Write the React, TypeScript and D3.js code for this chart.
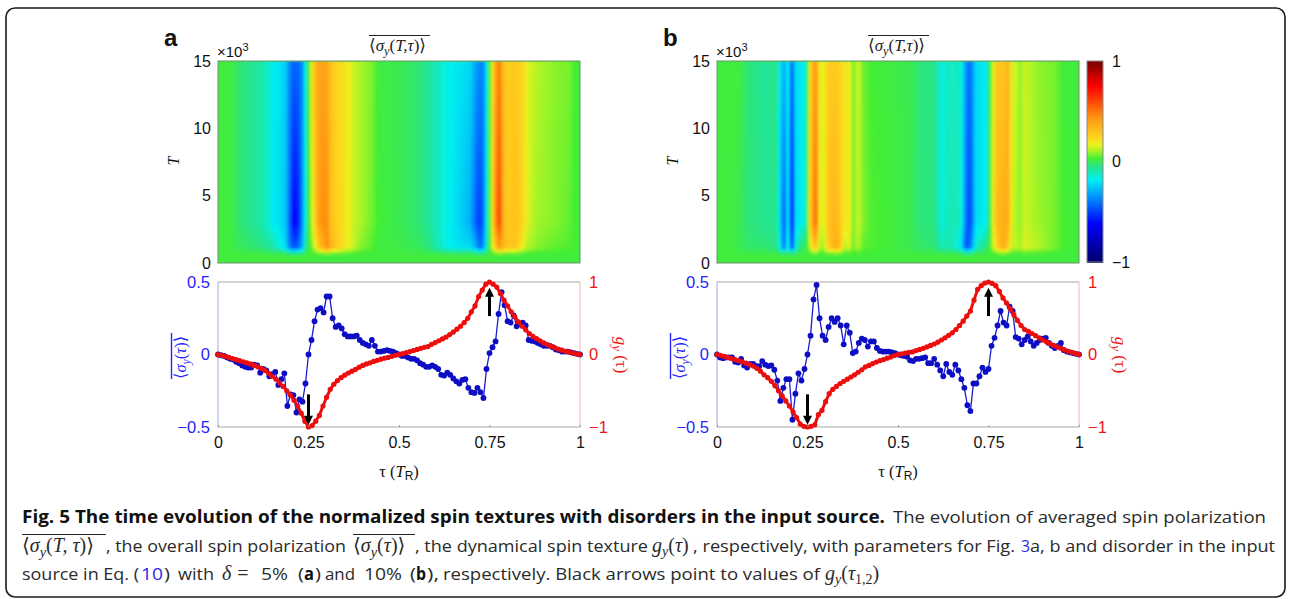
import React, { useEffect, useRef } from "react";
import * as d3 from "d3";

// colour bar stops
const colorDomain = [-1, -0.62, -0.36, -0.18, -0.05, 0.03, 0.1, 0.17, 0.25, 0.44, 0.75, 1];
const colorRange = ["#00006a", "#0000ff", "#0090ff", "#00f0f0", "#28e488", "#44ee33", "#a0f428", "#ecf21c", "#ffd020", "#ff9410", "#ff0000", "#7a0000"];

const hmTimes = [0, 0.55, 1.1, 3, 15];

// panel a heat map: one value per tau stop, at T = 1.1, 3 and 15 (x10^3)
const tauStopsA = [0, 0.032, 0.05, 0.078, 0.11, 0.133, 0.15, 0.165, 0.184, 0.195, 0.207, 0.22, 0.232, 0.24, 0.252, 0.262, 0.275, 0.29, 0.3, 0.308, 0.33, 0.354, 0.37, 0.391, 0.425, 0.437, 0.5, 0.55, 0.58, 0.602, 0.625, 0.65, 0.694, 0.71, 0.72, 0.73, 0.738, 0.745, 0.752, 0.76, 0.775, 0.785, 0.8, 0.815, 0.84, 0.85, 0.88, 0.93, 0.97, 0.98, 1];
const earlyA = [0.02, 0.02, 0, -0.02, -0.04, -0.06, -0.1, -0.14, -0.22, -0.4, -0.48, -0.42, -0.26, -0.05, 0.03, 0.12, 0.28, 0.38, 0.46, 0.34, 0.26, 0.18, 0.14, 0.08, 0.04, 0.02, 0.01, -0.01, -0.04, -0.1, -0.16, -0.2, -0.22, -0.3, -0.44, -0.36, -0.16, 0, 0.08, 0.24, 0.42, 0.34, 0.28, 0.3, 0.18, 0.12, 0.08, 0.05, 0.04, 0.03, 0.02];
const peakA = [0.02, 0.02, -0.02, -0.05, -0.08, -0.13, -0.19, -0.21, -0.26, -0.44, -0.64, -0.56, -0.32, -0.1, 0.06, 0.22, 0.4, 0.46, 0.44, 0.3, 0.24, 0.19, 0.14, 0.11, 0.06, 0.03, 0, -0.03, -0.07, -0.12, -0.16, -0.2, -0.3, -0.46, -0.52, -0.42, -0.2, 0, 0.1, 0.38, 0.64, 0.34, 0.26, 0.3, 0.24, 0.16, 0.1, 0.08, 0.05, 0.03, 0.02];
const steadyA = [0.02, 0.02, -0.02, -0.05, -0.08, -0.13, -0.19, -0.2, -0.24, -0.38, -0.44, -0.42, -0.34, -0.1, 0.1, 0.3, 0.38, 0.4, 0.36, 0.3, 0.23, 0.2, 0.14, 0.11, 0.07, 0.02, 0, -0.03, -0.07, -0.12, -0.16, -0.19, -0.22, -0.33, -0.36, -0.38, -0.2, 0, 0.1, 0.33, 0.5, 0.3, 0.26, 0.28, 0.24, 0.16, 0.12, 0.08, 0.07, 0.03, 0.02];

// panel b heat map
const tauStopsB = [0, 0.037, 0.06, 0.078, 0.129, 0.161, 0.17, 0.182, 0.193, 0.205, 0.214, 0.225, 0.241, 0.248, 0.257, 0.271, 0.28, 0.29, 0.303, 0.322, 0.335, 0.349, 0.363, 0.372, 0.388, 0.4, 0.423, 0.533, 0.561, 0.597, 0.616, 0.643, 0.671, 0.685, 0.697, 0.712, 0.74, 0.752, 0.767, 0.789, 0.801, 0.813, 0.823, 0.832, 0.847, 0.882, 0.928, 0.956, 1];
const earlyB = [0.02, 0.02, 0, -0.02, -0.03, -0.05, -0.16, -0.42, -0.14, -0.5, -0.16, -0.05, 0, 0.03, 0.2, 0.3, 0.12, 0.1, 0.25, 0.36, 0.34, 0.12, 0.16, 0.06, 0.12, 0.05, 0.04, 0, -0.02, -0.03, -0.1, -0.1, -0.2, -0.48, -0.4, -0.14, -0.04, 0.03, 0.22, 0.38, 0.26, 0.12, 0.14, 0.1, 0.16, 0.12, 0.07, 0.03, 0.02];
const peakB = [0.02, 0.02, 0, -0.03, -0.06, -0.06, -0.2, -0.46, -0.2, -0.62, -0.22, -0.2, -0.14, 0.06, 0.34, 0.54, 0.18, 0.14, 0.28, 0.34, 0.28, 0.2, 0.2, 0.06, 0.14, 0.08, 0.04, 0, -0.04, -0.04, -0.16, -0.1, -0.12, -0.42, -0.5, -0.22, -0.18, 0.03, 0.3, 0.36, 0.36, 0.14, 0.12, 0.08, 0.14, 0.1, 0.07, 0.03, 0.02];
const steadyB = [0.02, 0.02, 0.02, -0.03, -0.07, -0.05, -0.18, -0.3, -0.18, -0.44, -0.22, -0.2, -0.16, 0.03, 0.3, 0.42, 0.2, 0.15, 0.26, 0.27, 0.25, 0.2, 0.2, 0.06, 0.15, 0.06, 0.03, 0, -0.04, -0.05, -0.16, -0.12, -0.13, -0.36, -0.42, -0.22, -0.19, 0.03, 0.27, 0.28, 0.34, 0.13, 0.16, 0.08, 0.14, 0.09, 0.07, 0.02, 0.02];

// overall polarization, 121 samples across tau
const blueA = [0, -0.005, -0.01, -0.02, -0.03, -0.035, -0.05, -0.06, -0.075, -0.085, -0.09, -0.09, -0.07, -0.075, -0.125, -0.1, -0.11, -0.15, -0.135, -0.12, -0.21, -0.17, -0.13, -0.355, -0.275, -0.28, -0.4, -0.31, -0.325, -0.2, 0, 0.1, 0.23, 0.31, 0.32, 0.29, 0.4, 0.4, 0.25, 0.19, 0.2, 0.18, 0.14, 0.125, 0.125, 0.125, 0.13, 0.1, 0.08, 0.07, 0.06, 0.1, 0.06, 0.02, 0.02, 0.025, 0.03, 0.025, 0.02, 0.01, 0, -0.01, -0.01, -0.02, -0.03, -0.03, -0.04, -0.06, -0.07, -0.085, -0.085, -0.075, -0.085, -0.1, -0.14, -0.145, -0.125, -0.14, -0.165, -0.185, -0.2, -0.175, -0.17, -0.23, -0.26, -0.265, -0.23, -0.26, -0.3, -0.1, 0.01, 0.05, 0.09, 0.28, 0.43, 0.34, 0.23, 0.22, 0.27, 0.195, 0.21, 0.22, 0.2, 0.1, 0.095, 0.09, 0.08, 0.07, 0.06, 0.06, 0.06, 0.05, 0.035, 0.03, 0.02, 0.02, 0.02, 0.015, 0.01, 0.005, 0];
const blueB = [0, -0.02, -0.025, -0.02, -0.02, -0.02, -0.05, -0.055, -0.03, -0.075, -0.09, -0.065, -0.065, -0.08, -0.08, -0.045, -0.07, -0.08, -0.075, -0.105, -0.18, -0.32, -0.23, -0.17, -0.17, -0.45, -0.27, -0.13, -0.18, -0.1, 0, 0.13, 0.38, 0.48, 0.25, 0.13, 0.1, 0.19, 0.25, 0.225, 0.25, 0.2, 0.07, 0.2, 0.15, 0.01, 0.02, 0.08, 0.11, 0.1, 0.055, 0.09, 0.09, 0.045, 0.025, 0.02, 0.02, 0.02, 0.015, 0.01, 0, -0.005, -0.01, -0.015, -0.04, -0.045, -0.03, -0.03, -0.025, -0.02, -0.06, -0.06, -0.03, -0.07, -0.11, -0.15, -0.065, -0.12, -0.14, -0.07, -0.11, -0.17, -0.23, -0.35, -0.39, -0.2, -0.2, -0.15, -0.09, -0.12, -0.1, 0.06, 0.115, 0.2, 0.3, 0.22, 0.2, 0.33, 0.3, 0.12, 0.11, 0.07, 0.1, 0.125, 0.09, 0.06, 0.08, 0.1, 0.11, 0.115, 0.08, 0.06, 0.045, 0.06, 0.08, 0.03, 0.02, 0.015, 0.01, 0.005, 0];

// dynamical spin texture, 101 samples across tau
const redA = [0, -0.012, -0.025, -0.04, -0.055, -0.07, -0.085, -0.1, -0.115, -0.13, -0.15, -0.17, -0.19, -0.22, -0.26, -0.3, -0.34, -0.39, -0.44, -0.5, -0.56, -0.63, -0.71, -0.81, -0.92, -1, -0.98, -0.92, -0.84, -0.71, -0.59, -0.48, -0.41, -0.36, -0.32, -0.285, -0.255, -0.23, -0.205, -0.175, -0.15, -0.13, -0.115, -0.095, -0.08, -0.065, -0.05, -0.04, -0.025, -0.012, 0, 0.012, 0.025, 0.04, 0.055, 0.07, 0.085, 0.1, 0.11, 0.14, 0.165, 0.19, 0.215, 0.24, 0.275, 0.31, 0.35, 0.39, 0.44, 0.5, 0.59, 0.67, 0.8, 0.89, 0.97, 1, 0.97, 0.93, 0.84, 0.75, 0.67, 0.59, 0.52, 0.45, 0.39, 0.34, 0.29, 0.25, 0.22, 0.19, 0.16, 0.135, 0.115, 0.095, 0.075, 0.06, 0.045, 0.035, 0.02, 0.01, 0];
const redB = [0, -0.012, -0.025, -0.04, -0.055, -0.07, -0.085, -0.1, -0.12, -0.14, -0.16, -0.19, -0.23, -0.28, -0.32, -0.37, -0.43, -0.5, -0.57, -0.64, -0.71, -0.79, -0.87, -0.96, -0.99, -1, -0.99, -0.97, -0.83, -0.77, -0.65, -0.54, -0.48, -0.44, -0.4, -0.37, -0.34, -0.31, -0.28, -0.245, -0.21, -0.17, -0.15, -0.125, -0.105, -0.085, -0.07, -0.05, -0.035, -0.015, 0, 0.01, 0.02, 0.03, 0.035, 0.055, 0.07, 0.085, 0.105, 0.125, 0.145, 0.17, 0.2, 0.23, 0.265, 0.3, 0.345, 0.4, 0.46, 0.53, 0.6, 0.75, 0.9, 0.95, 0.985, 1, 0.98, 0.95, 0.87, 0.78, 0.71, 0.63, 0.55, 0.47, 0.4, 0.345, 0.32, 0.29, 0.26, 0.23, 0.2, 0.175, 0.15, 0.125, 0.105, 0.085, 0.065, 0.045, 0.03, 0.015, 0];

const tTicks = [0, 5, 10, 15];
const tauTicks = [0, 0.25, 0.5, 0.75, 1];
const blueTicks = [-0.5, 0, 0.5];
const redTicks = [-1, 0, 1];

const BLUE = "#2424ff";
const RED = "#f01414";
const SANS = "'Liberation Sans', Arial, sans-serif";
const SERIF = "'Liberation Serif', 'DejaVu Serif', serif";
const CAPTION = "'Open Sans', sans-serif";

const fmt = (d: any) => String(d).replace("-", "\u2212");

function drawMath(g: any, x: number, y: number, size: number, fill: string, inner: string) {
  // averaged quantity with its bar, inner is "T,τ" or "τ"
  const t = g.append("text").attr("x", x).attr("y", y).attr("font-family", SERIF).attr("font-size", size).attr("fill", fill);
  t.append("tspan").text("\u27e8");
  t.append("tspan").attr("font-style", "italic").text("\u03c3");
  t.append("tspan").attr("font-style", "italic").attr("font-size", size * 0.72).attr("dy", size * 0.25).text("y");
  t.append("tspan").attr("dy", -size * 0.25).text("(");
  t.append("tspan").attr("font-style", "italic").text(inner);
  t.append("tspan").text(")\u27e9");
  return t;
}

function drawPanel(svg: any, p: any) {
  const tau = d3.scaleLinear().domain([0, 1]).range([p.left, p.left + 362]);
  const tY = d3.scaleLinear().domain([0, 15]).range([263, 61]);
  const blueY = d3.scaleLinear().domain([-0.5, 0.5]).range([427, 282]);
  const redY = d3.scaleLinear().domain([-1, 1]).range([427, 282]);

  // heat map: piecewise scales over the stops
  const rows = [p.base, p.base, p.early, p.peak, p.steady].map((r: number[]) =>
    d3.scaleLinear().domain(p.tauStops).range(r)
  );
  const color = d3.scaleLinear<string>().domain(colorDomain).range(colorRange);
  const colX = d3.range(0, 1, 2 / 362);
  const rowT = d3.range(0, 15, 15 / 70);
  const clipId = "clip-" + p.name;
  svg.append("clipPath").attr("id", clipId).append("rect")
    .attr("x", tau(0)).attr("y", tY(15)).attr("width", 362).attr("height", 202);
  const hm = svg.append("g").attr("clip-path", `url(#${clipId})`);
  hm.append("rect").attr("x", tau(0)).attr("y", tY(15)).attr("width", 362).attr("height", 202).attr("fill", color(0.02));
  const cells = hm.append("g").attr("filter", "url(#soft)").attr("shape-rendering", "crispEdges");
  rowT.forEach((T: number) => {
    const i = d3.bisectRight(hmTimes, T) - 1;
    const k = (T - hmTimes[i]) / (hmTimes[i + 1] - hmTimes[i]);
    cells.append("g").selectAll("rect").data(colX).join("rect")
      .attr("x", (d: number) => tau(d))
      .attr("y", tY(T + 15 / 70))
      .attr("width", 2.5)
      .attr("height", 15 / 70 * 202 / 15 + 0.5)
      .attr("fill", (d: number) => color(rows[i](d) * (1 - k) + rows[i + 1](d) * k));
  });
  svg.append("rect").attr("x", tau(0)).attr("y", tY(15)).attr("width", 362).attr("height", 202)
    .attr("fill", "none").attr("stroke", "#6d8f6d").attr("stroke-width", 1);

  const hmAxis = svg.append("g").attr("transform", `translate(${tau(0)},0)`)
    .call(d3.axisLeft(tY).tickValues(tTicks).tickSize(0).tickPadding(7).tickFormat(fmt));
  hmAxis.select(".domain").remove();
  hmAxis.selectAll("text").attr("font-family", SANS).attr("font-size", 16).attr("fill", "#111");

  svg.append("text").attr("x", p.left - 54).attr("y", 46).attr("font-family", SANS).attr("font-weight", "bold").attr("font-size", 24).attr("fill", "#111").text(p.name);
  const e3 = svg.append("text").attr("x", p.left - 1).attr("y", 57).attr("font-family", SANS).attr("font-size", 15).attr("fill", "#111");
  e3.append("tspan").text("\u00d710");
  e3.append("tspan").attr("font-size", 11).attr("dy", -6).text("3");

  drawMath(svg, p.left + 151, 51, 17, "#222", "T,\u03c4");
  svg.append("line").attr("x1", p.left + 151).attr("x2", p.left + 212).attr("y1", 35.5).attr("y2", 35.5).attr("stroke", "#222");
  svg.append("text").attr("transform", `translate(${p.left - 39},161) rotate(-90)`).attr("text-anchor", "middle")
    .attr("font-family", SERIF).attr("font-style", "italic").attr("font-size", 16).attr("fill", "#111").text("T");

  // frame of the lower plot
  const plot = svg.append("g").attr("filter", "url(#soft2)");
  plot.append("line").attr("x1", tau(0)).attr("x2", tau(1)).attr("y1", 282).attr("y2", 282).attr("stroke", "#a8a8a8");
  plot.append("line").attr("x1", tau(0)).attr("x2", tau(1)).attr("y1", 427).attr("y2", 427).attr("stroke", "#a8a8a8");
  plot.append("line").attr("x1", tau(0)).attr("x2", tau(0)).attr("y1", 282).attr("y2", 427).attr("stroke", "#a6a6dc");
  plot.append("line").attr("x1", tau(1)).attr("x2", tau(1)).attr("y1", 282).attr("y2", 427).attr("stroke", "#f0b4b4");

  const blueTau = p.blue.map((_: number, i: number) => i / (p.blue.length - 1));
  const redTau = p.red.map((_: number, i: number) => i / (p.red.length - 1));
  const blueLine = d3.line<number>().x((_, i) => tau(blueTau[i])).y((d) => blueY(d));
  const redLine = d3.line<number>().x((_, i) => tau(redTau[i])).y((d) => redY(d));

  plot.append("path").attr("d", blueLine(p.blue)).attr("fill", "none").attr("stroke", "#1c1cd0").attr("stroke-width", 1.3);
  plot.selectAll("circle.b").data(p.blue).join("circle").attr("class", "b")
    .attr("cx", (_: number, i: number) => tau(blueTau[i])).attr("cy", (d: number) => blueY(d)).attr("r", 2.9).attr("fill", "#0e0ec4");
  plot.append("path").attr("d", redLine(p.red)).attr("fill", "none").attr("stroke", "#ec1010").attr("stroke-width", 3);
  plot.selectAll("circle.r").data(p.red).join("circle").attr("class", "r")
    .attr("cx", (_: number, i: number) => tau(redTau[i])).attr("cy", (d: number) => redY(d)).attr("r", 2.6).attr("fill", "#ec1010");

  // black arrows at the two extrema of g_y
  [{ t: 0.25, from: -0.55, to: -0.97 }, { t: 0.75, from: 0.53, to: 0.92 }].forEach((a) => {
    const x = tau(a.t);
    const dir = Math.sign(a.to - a.from);
    plot.append("line").attr("x1", x).attr("x2", x).attr("y1", redY(a.from)).attr("y2", redY(a.to) + dir * 7).attr("stroke", "#000").attr("stroke-width", 3);
    const tip = redY(a.to);
    const path = d3.path();
    path.moveTo(x - 4.5, tip + dir * 9);
    path.lineTo(x, tip);
    path.lineTo(x + 4.5, tip + dir * 9);
    path.closePath();
    plot.append("path").attr("d", path.toString()).attr("fill", "#000");
  });

  const bottom = svg.append("g").attr("transform", "translate(0,427)")
    .call(d3.axisBottom(tau).tickValues(tauTicks).tickSizeInner(-2).tickSizeOuter(0).tickPadding(10).tickFormat(fmt));
  bottom.select(".domain").remove();
  bottom.selectAll("line").attr("stroke", "#999");
  bottom.selectAll("text").attr("font-family", SANS).attr("font-size", 16).attr("fill", "#111");

  const left = svg.append("g").attr("transform", `translate(${tau(0)},0)`)
    .call(d3.axisLeft(blueY).tickValues(blueTicks).tickSize(0).tickPadding(8).tickFormat(fmt));
  left.select(".domain").remove();
  left.selectAll("text").attr("font-family", SANS).attr("font-size", 16.5).attr("fill", BLUE);

  const right = svg.append("g").attr("transform", `translate(${tau(1)},0)`)
    .call(d3.axisRight(redY).tickValues(redTicks).tickSize(0).tickPadding(9).tickFormat(fmt));
  right.select(".domain").remove();
  right.selectAll("text").attr("font-family", SANS).attr("font-size", 16.5).attr("fill", RED);

  const lab = svg.append("text").attr("x", tau(0.5)).attr("y", 477).attr("text-anchor", "middle").attr("font-family", SERIF).attr("font-size", 16.5).attr("fill", "#111");
  lab.append("tspan").text("\u03c4 (");
  lab.append("tspan").attr("font-style", "italic").text("T");
  lab.append("tspan").attr("font-size", 12).attr("dy", 3).attr("font-family", SANS).text("R");
  lab.append("tspan").attr("dy", -3).text(")");

  const yl = svg.append("g").attr("transform", `translate(${p.left - 37},379) rotate(-90)`);
  drawMath(yl, 0, 5, 16.5, BLUE, "\u03c4");
  yl.append("line").attr("x1", 0).attr("x2", 46).attr("y1", -9.5).attr("y2", -9.5).attr("stroke", BLUE).attr("stroke-width", 1.4);

  const gl = svg.append("text").attr("transform", `translate(${tau(1) + 36},355) rotate(90)`).attr("text-anchor", "middle")
    .attr("font-family", SERIF).attr("font-size", 17).attr("fill", RED);
  gl.append("tspan").attr("font-style", "italic").text("g");
  gl.append("tspan").attr("font-style", "italic").attr("font-size", 13).attr("dy", 3).text("y");
  gl.append("tspan").attr("dy", -3).text(" (\u03c4)");
}

function drawColorbar(svg: any) {
  const y = d3.scaleLinear().domain([-1, 1]).range([262, 61]);
  const color = d3.scaleLinear<string>().domain(colorDomain).range(colorRange);
  const steps = d3.range(-1, 1, 0.01);
  svg.append("g").attr("shape-rendering", "crispEdges").selectAll("rect").data(steps).join("rect")
    .attr("x", 1087).attr("width", 16)
    .attr("y", (d: number) => y(d + 0.01)).attr("height", 1.6)
    .attr("fill", (d: number) => color(d));
  svg.append("rect").attr("x", 1087).attr("y", 61).attr("width", 16).attr("height", 201).attr("fill", "none").attr("stroke", "#888");
  const axis = svg.append("g").attr("transform", "translate(1103,0)")
    .call(d3.axisRight(y).tickValues(redTicks).tickSize(0).tickPadding(9).tickFormat(fmt));
  axis.select(".domain").remove();
  axis.selectAll("text").attr("font-family", SANS).attr("font-size", 16).attr("fill", "#111");
}

// one run of caption text squeezed to the width it has in the reference
function cap(svg: any, x: number, y: number, len: number, text: string, opts: any = {}) {
  svg.append("text").attr("x", x).attr("y", y).attr("textLength", len).attr("lengthAdjust", "spacingAndGlyphs")
    .attr("font-family", opts.family || CAPTION).attr("font-size", opts.size || 17)
    .attr("font-weight", opts.weight || 400).attr("font-style", opts.style || "normal")
    .attr("fill", opts.fill || "#2a2a2a").text(text);
}

function capMath(svg: any, x: number, y: number, inner: string, width: number) {
  drawMath(svg, x, y, 20, "#2a2a2a", inner);
  svg.append("line").attr("x1", x).attr("x2", x + width).attr("y1", y - 17.5).attr("y2", y - 17.5).attr("stroke", "#222");
}

function capG(svg: any, x: number, y: number, inner: string) {
  const t = svg.append("text").attr("x", x).attr("y", y).attr("font-family", SERIF).attr("font-size", 20).attr("fill", "#2a2a2a");
  t.append("tspan").attr("font-style", "italic").text("g");
  t.append("tspan").attr("font-style", "italic").attr("font-size", 14).attr("dy", 4).text("y");
  t.append("tspan").attr("dy", -4).text("(");
  t.append("tspan").attr("font-style", "italic").text("\u03c4");
  if (inner) t.append("tspan").attr("font-size", 14).attr("dy", 4).text(inner);
  t.append("tspan").attr("dy", inner ? -4 : 0).text(")");
}

function drawCaption(svg: any) {
  svg.append("rect").attr("x", 6).attr("y", 8).attr("width", 1279).attr("height", 589).attr("rx", 9)
    .attr("fill", "none").attr("stroke", "#1a1a1a").attr("stroke-width", 1.6);

  cap(svg, 22, 523, 863, "Fig. 5 The time evolution of the normalized spin textures with disorders in the input source.", { weight: 700, fill: "#111" });
  cap(svg, 893, 523, 373, "The evolution of averaged spin polarization");

  capMath(svg, 22, 552, "T, \u03c4", 84);
  cap(svg, 106, 552, 240, ", the overall spin polarization");
  capMath(svg, 353, 552, "\u03c4", 62);
  cap(svg, 415, 552, 233, ", the dynamical spin texture");
  capG(svg, 652, 552, "");
  cap(svg, 693, 552, 322, ", respectively, with parameters for Fig.");
  cap(svg, 1021, 552, 9, "3", { fill: "#2a2aee" });
  cap(svg, 1030, 552, 245, "a, b and disorder in the input");

  cap(svg, 22, 580, 117, "source in Eq. (");
  cap(svg, 141, 580, 22, "10", { fill: "#2a2aee" });
  cap(svg, 164, 580, 6, ")");
  cap(svg, 178, 580, 36, "with");
  const d = svg.append("text").attr("x", 222).attr("y", 580).attr("font-family", SERIF).attr("font-size", 20).attr("fill", "#2a2a2a");
  d.append("tspan").attr("font-style", "italic").text("\u03b4");
  d.append("tspan").attr("dx", 6).text("=");
  cap(svg, 261, 580, 27, "5%");
  cap(svg, 298, 580, 6, "(");
  cap(svg, 304, 580, 10, "a", { weight: 700, fill: "#111" });
  cap(svg, 315, 580, 6, ")");
  cap(svg, 325, 580, 30, "and");
  cap(svg, 364, 580, 38, "10%");
  cap(svg, 410, 580, 6, "(");
  cap(svg, 416, 580, 10, "b", { weight: 700, fill: "#111" });
  cap(svg, 427, 580, 12, "),");
  cap(svg, 443, 580, 377, "respectively. Black arrows point to values of");
  capG(svg, 825, 580, "1,2");
}

export default function App() {
  const ref = useRef<SVGSVGElement>(null);

  useEffect(() => {
    const svg = d3.select(ref.current);
    svg.selectAll("*").remove();

    const defs = svg.append("defs");
    defs.append("filter").attr("id", "soft").attr("x", "-2%").attr("y", "-2%").attr("width", "104%").attr("height", "104%")
      .append("feGaussianBlur").attr("stdDeviation", 1);
    defs.append("filter").attr("id", "soft2").attr("x", "-2%").attr("y", "-2%").attr("width", "104%").attr("height", "104%")
      .append("feGaussianBlur").attr("stdDeviation", 0.45);

    const base = tauStopsA.map(() => 0.02);
    const baseB = tauStopsB.map(() => 0.02);
    drawPanel(svg, { name: "a", left: 218, tauStops: tauStopsA, base, early: earlyA, peak: peakA, steady: steadyA, blue: blueA, red: redA });
    drawPanel(svg, { name: "b", left: 717, tauStops: tauStopsB, base: baseB, early: earlyB, peak: peakB, steady: steadyB, blue: blueB, red: redB });
    drawColorbar(svg);
    drawCaption(svg);
  }, []);

  return <svg ref={ref} width={1290} height={599} style={{ position: "absolute", left: 0, top: 0, display: "block", background: "#fff" }} />;
}
